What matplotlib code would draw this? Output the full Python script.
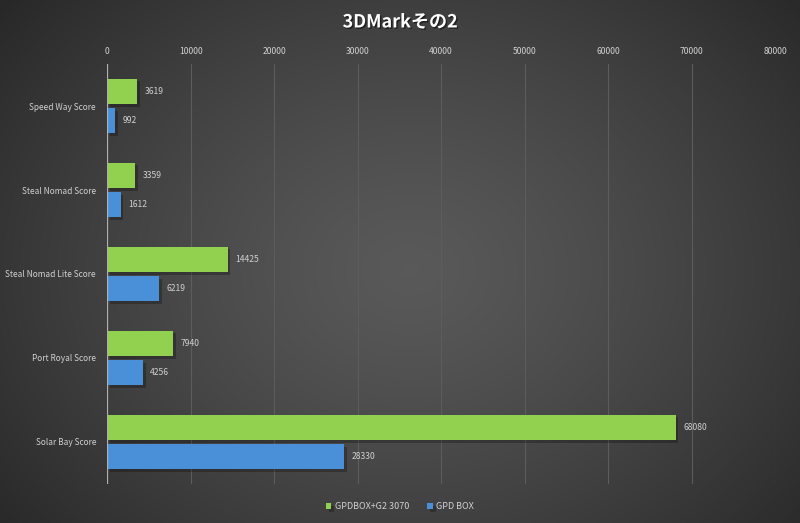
import numpy as np
import matplotlib
matplotlib.use("Agg")
import matplotlib.pyplot as plt
from matplotlib import patheffects as pe

plt.rcParams['font.family'] = ['Noto Sans CJK JP', 'DejaVu Sans']

categories = ["Speed Way Score", "Steal Nomad Score", "Steal Nomad Lite Score",
              "Port Royal Score", "Solar Bay Score"]
series_names = ["GPDBOX+G2 3070", "GPD BOX"]
green_vals = [3619, 3359, 14425, 7940, 68080]
blue_vals = [992, 1612, 6219, 4256, 28330]
xticks = [0, 10000, 20000, 30000, 40000, 50000, 60000, 70000, 80000]
title = "3DMarkその2"

green = "#92d050"
blue = "#4a90d9"
txt = "#d0d0d0"

fig = plt.figure(figsize=(8, 5.23), dpi=100)

# radial gradient background
bg = fig.add_axes([0, 0, 1, 1], zorder=-10)
W, H = 800, 523
yy, xx = np.mgrid[0:H, 0:W]
cx, cy = 410, 270
r = np.sqrt(((xx - cx) / 520.0) ** 2 + ((yy - cy) / 420.0) ** 2)
r = np.clip(r, 0, 1)
inner, outer = 0.35, 0.16
val = inner + (outer - inner) * r ** 1.3
img = np.dstack([val, val, val])
bg.imshow(img, aspect='auto', extent=[0, 1, 0, 1], origin='upper')
bg.set_axis_off()

ax = fig.add_axes([0.134, 0.0746, 0.835, 0.8030])
ax.patch.set_alpha(0)

y = np.arange(len(categories))
h = 0.30
off = 0.175
shadow = [pe.SimplePatchShadow(offset=(2, -2), shadow_rgbFace='black', alpha=0.25), pe.Normal()]
bg_bars = ax.barh(y - off, green_vals, height=h, color=green, edgecolor="none",
                  label=series_names[0], zorder=3, path_effects=shadow)
bb_bars = ax.barh(y + off, blue_vals, height=h, color=blue, edgecolor="none",
                  label=series_names[1], zorder=3, path_effects=shadow)

for yi, v in zip(y - off, green_vals):
    ax.text(v + 900, yi, str(v), va='center', ha='left', color=txt, fontsize=6.2, zorder=4)
for yi, v in zip(y + off, blue_vals):
    ax.text(v + 900, yi, str(v), va='center', ha='left', color=txt, fontsize=6.2, zorder=4)

ax.set_xlim(0, 80000)
ax.set_ylim(4.5, -0.5)
ax.set_yticks(y)
ax.set_yticklabels(categories, color=txt, fontsize=6.0)
ax.set_xticks(xticks)
ax.set_xticklabels([str(t) for t in xticks], color=txt, fontsize=6.2)
ax.xaxis.tick_top()
ax.tick_params(axis='x', length=0, pad=6)
ax.tick_params(axis='y', length=0, pad=8)
for s in ax.spines.values():
    s.set_visible(False)
for t in xticks[1:]:
    ax.axvline(t, color="#5c5c5c", linewidth=0.8, zorder=1)
ax.axvline(0, color="#b0b0b0", linewidth=0.9, zorder=4)

fig.text(0.5, 0.958, title, ha='center', va='center', color='white', fontsize=13,
         fontweight='bold',
         path_effects=[pe.withSimplePatchShadow(offset=(1, -1), shadow_rgbFace='black', alpha=0.5)])

leg = fig.legend(handles=[bg_bars, bb_bars], labels=series_names, loc='center',
                 bbox_to_anchor=(0.5, 0.031), ncol=2, frameon=False, fontsize=6.5,
                 handlelength=0.6, handleheight=0.6, handletextpad=0.4, columnspacing=2.0)
for t in leg.get_texts():
    t.set_color(txt)

fig.savefig("out.png", dpi=100)
